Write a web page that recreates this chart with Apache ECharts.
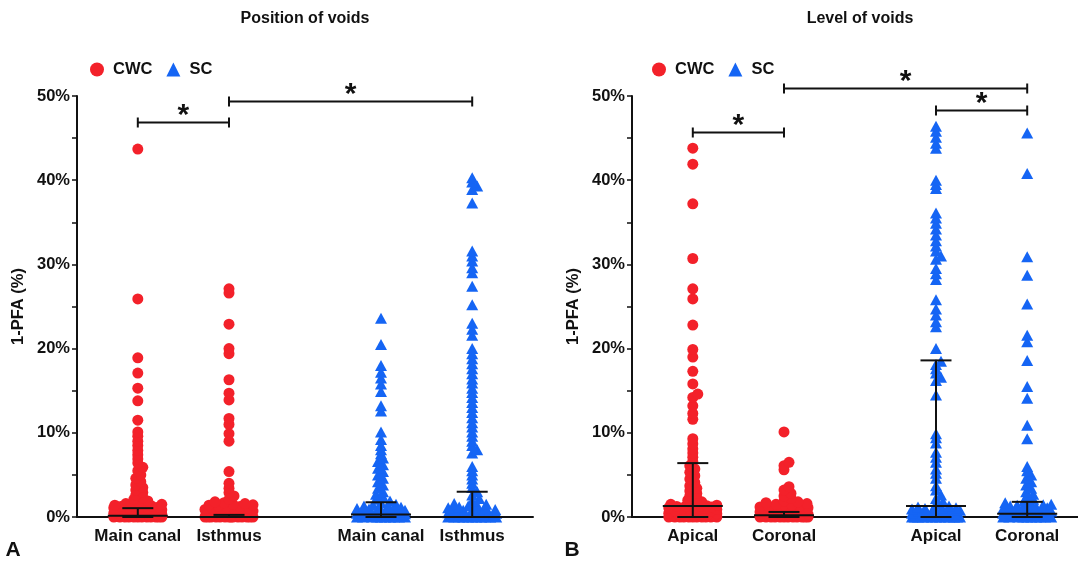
<!DOCTYPE html>
<html>
<head>
<meta charset="utf-8">
<title>Voids: position and level</title>
<script src="https://cdn.jsdelivr.net/npm/echarts@6/dist/echarts.min.js"></script>
<style>
  html, body { margin: 0; padding: 0; background: #fff; }
  #chart { width: 1078px; height: 568px; }
</style>
</head>
<body>
<div id="chart"></div>
<script>
// ---- Data: 1-PFA (%) per specimen ----
const positionCategories = ['Main canal', 'Isthmus', 'Main canal', 'Isthmus'];
const levelCategories = ['Apical', 'Coronal', 'Apical', 'Coronal'];
const yTicks = [0, 10, 20, 30, 40, 50];

// Position of voids
const cwcMainCanal = [43.7, 25.9, 18.9, 17.1, 15.3, 13.8, 11.5, 10.1, 9.6, 9.0, 8.5, 7.9, 7.4, 6.9, 6.4, 5.9, 5.5, 5.0, 4.6, 4.2, 3.8, 3.5, 3.2, 2.9, 2.6, 2.3, 2.1, 1.9, 1.7, 1.6, 1.5, 1.4, 1.35, 1.3, 1.3, 1.25, 1.2, 1.2, 1.15, 1.1, 1.0, 0.95, 0.9, 0.9, 0.85, 0.8, 0.8, 0.75, 0.7, 0.6, 0.55, 0.5, 0.5, 0.45, 0.45, 0.4, 0.4, 0.35, 0.3, 0.25, 0.2, 0.15, 0.1, 0.1, 0.05, 0.05, 0, 0, 0, 0, 0, 0, 0, 0, 0, 0, 0, 0];
const cwcIsthmus = [27.1, 26.6, 22.9, 20.0, 19.4, 16.3, 14.7, 13.9, 11.7, 11.0, 9.9, 9.0, 5.4, 4.0, 3.4, 2.9, 2.5, 2.1, 1.8, 1.7, 1.6, 1.5, 1.45, 1.4, 1.3, 1.25, 1.2, 1.1, 1.0, 0.95, 0.9, 0.85, 0.8, 0.75, 0.7, 0.6, 0.55, 0.5, 0.5, 0.45, 0.4, 0.35, 0.3, 0.25, 0.2, 0.15, 0.1, 0.1, 0.05, 0.05, 0, 0, 0, 0, 0, 0, 0, 0, 0, 0, 0, 0, 0, 0];
const scMainCanal = [23.6, 20.5, 18.0, 17.2, 16.5, 15.8, 14.9, 13.2, 12.6, 10.1, 9.2, 8.5, 8.0, 7.5, 7.0, 6.6, 6.2, 5.8, 5.4, 5.0, 4.6, 4.2, 3.8, 3.4, 3.0, 2.7, 2.4, 2.1, 1.9, 1.7, 1.5, 1.4, 1.3, 1.2, 1.15, 1.1, 1.0, 0.95, 0.9, 0.85, 0.8, 0.75, 0.7, 0.6, 0.55, 0.5, 0.5, 0.45, 0.4, 0.35, 0.3, 0.25, 0.2, 0.15, 0.1, 0.1, 0.05, 0.05, 0, 0, 0, 0, 0, 0, 0, 0, 0, 0];
const scIsthmus = [40.3, 39.8, 39.3, 38.9, 37.3, 31.6, 31.0, 30.4, 29.6, 29.0, 27.4, 25.2, 23.0, 22.3, 21.6, 20.0, 19.4, 18.8, 18.2, 17.6, 17.0, 16.4, 15.9, 15.3, 14.8, 14.2, 13.6, 13.0, 12.4, 11.8, 11.2, 10.7, 10.1, 9.6, 9.0, 8.5, 8.0, 7.6, 6.0, 5.5, 5.0, 4.5, 4.0, 3.5, 3.0, 2.6, 2.2, 1.9, 1.6, 1.5, 1.4, 1.3, 1.2, 1.1, 1.0, 0.95, 0.9, 0.85, 0.8, 0.7, 0.6, 0.55, 0.5, 0.45, 0.4, 0.3, 0.2, 0.15, 0.1, 0.05, 0, 0, 0, 0, 0, 0, 0, 0, 0, 0, 0];

// Level of voids
const cwcApical = [43.8, 41.9, 37.2, 30.7, 27.1, 25.9, 22.8, 19.9, 19.0, 17.3, 15.8, 14.6, 14.2, 13.2, 12.3, 11.6, 9.3, 8.7, 8.1, 7.6, 7.1, 6.6, 6.1, 5.7, 5.3, 4.9, 4.5, 4.1, 3.7, 3.4, 3.1, 2.8, 2.5, 2.2, 2.0, 1.8, 1.6, 1.5, 1.4, 1.35, 1.3, 1.3, 1.25, 1.2, 1.15, 1.1, 1.0, 0.95, 0.9, 0.85, 0.8, 0.75, 0.7, 0.6, 0.55, 0.5, 0.45, 0.4, 0.35, 0.3, 0.25, 0.2, 0.15, 0.1, 0.05, 0, 0, 0, 0, 0, 0, 0, 0, 0, 0, 0];
const cwcCoronal = [10.1, 6.5, 6.1, 5.6, 3.6, 3.2, 2.8, 2.5, 2.2, 1.9, 1.8, 1.7, 1.6, 1.5, 1.45, 1.4, 1.3, 1.25, 1.2, 1.1, 1.0, 0.95, 0.9, 0.85, 0.8, 0.75, 0.7, 0.6, 0.55, 0.5, 0.45, 0.4, 0.35, 0.3, 0.25, 0.2, 0.15, 0.1, 0.1, 0.05, 0.05, 0, 0, 0, 0, 0, 0, 0, 0, 0, 0, 0, 0];
const scApical = [46.4, 45.8, 45.1, 44.4, 43.8, 40.0, 39.5, 39.0, 36.1, 35.5, 34.9, 34.2, 33.5, 32.8, 32.2, 31.6, 31.0, 30.6, 29.5, 28.9, 28.2, 25.8, 24.7, 24.0, 23.2, 22.6, 20.0, 18.5, 18.1, 17.6, 17.1, 16.6, 16.2, 14.5, 9.9, 9.4, 8.8, 7.7, 7.1, 6.5, 5.7, 5.2, 4.6, 3.7, 3.2, 2.6, 2.2, 1.8, 1.5, 1.3, 1.2, 1.1, 1.05, 1.0, 0.95, 0.9, 0.85, 0.8, 0.7, 0.6, 0.55, 0.5, 0.45, 0.4, 0.3, 0.25, 0.2, 0.15, 0.1, 0.05, 0, 0, 0, 0, 0, 0, 0, 0, 0, 0, 0, 0, 0];
const scCoronal = [45.6, 40.8, 30.9, 28.7, 25.3, 21.6, 20.8, 18.6, 15.5, 14.1, 10.9, 9.3, 6.0, 5.5, 5.0, 4.6, 4.2, 3.8, 3.4, 3.0, 2.7, 2.4, 2.1, 1.9, 1.7, 1.6, 1.5, 1.45, 1.4, 1.3, 1.25, 1.2, 1.1, 1.0, 0.95, 0.9, 0.85, 0.8, 0.75, 0.7, 0.6, 0.55, 0.5, 0.45, 0.4, 0.35, 0.3, 0.25, 0.2, 0.15, 0.1, 0.05, 0, 0, 0, 0, 0, 0, 0, 0, 0, 0];

// Median with interquartile range, one entry per group
const positionMedian = [0.15, 0, 0.3, 0];
const positionQ1 = [0, 0, 0, 0];
const positionQ3 = [1.05, 0.25, 1.75, 3.0];
const levelMedian = [1.3, 0.2, 1.3, 0.4];
const levelQ1 = [0, 0, 0, 0];
const levelQ3 = [6.4, 0.6, 18.6, 1.8];

// Significance brackets: [from group, to group, height %]
const positionBrackets = [[0, 1, 46.9], [1, 3, 49.4]];
const levelBrackets = [[0, 1, 45.7], [1, 3, 50.9], [2, 3, 48.3]];

// ---- Layout ----
const FONT = '"Liberation Sans", Arial, Helvetica, sans-serif';
const RED = '#F3212A';
const BLUE = '#1565F4';
const INK = '#111111';
const groupPos = [2 / 3, 5 / 3, 10 / 3, 13 / 3];
const plotTop = 96, plotHeight = 421;
const pxPerX = 91.2;                // pixels per x unit
const pxPerY = plotHeight / 50;     // pixels per percent

// Beeswarm spread: points keep their value, only the horizontal offset is chosen
function swarm(values, pos) {
  const order = values.map((v, i) => i).sort((a, b) => values[a] - values[b]);
  const placed = [];
  const rx = 9, ry = 4, maxHalf = 24;
  const out = [];
  for (const i of order) {
    const v = values[i];
    const py = v * pxPerY;
    let best = 0, bestScore = -1;
    for (let k = 0; k <= 2 * maxHalf; k++) {
      const dx = (k % 2 === 1 ? 1 : -1) * Math.ceil(k / 2);
      let minD = Infinity;
      for (const p of placed) {
        const ddy = (py - p.py) / ry;
        if (Math.abs(ddy) >= 1) continue;
        const ddx = (dx - p.dx) / rx;
        const d = ddx * ddx + ddy * ddy;
        if (d < minD) minD = d;
      }
      if (minD >= 1) { best = dx; break; }
      if (minD > bestScore) { bestScore = minD; best = dx; }
    }
    placed.push({ dx: best, py });
    out.push([pos + best / pxPerX, v]);
  }
  return out;
}

function statsData(med, q1, q3) {
  return groupPos.map((p, i) => [p, med[i], q1[i], q3[i]]);
}

function bracketData(list) {
  return list.map(b => [groupPos[b[0]], groupPos[b[1]], b[2]]);
}

const lineStyle = { stroke: INK, lineWidth: 2 };

function renderStats(params, api) {
  const x = api.value(0);
  const pMed = api.coord([x, api.value(1)]);
  const pLo = api.coord([x, api.value(2)]);
  const pHi = api.coord([x, api.value(3)]);
  const cap = 15.5, half = 30;
  return {
    type: 'group',
    children: [
      { type: 'line', shape: { x1: pLo[0], y1: pLo[1], x2: pHi[0], y2: pHi[1] }, style: lineStyle },
      { type: 'line', shape: { x1: pLo[0] - cap, y1: pLo[1], x2: pLo[0] + cap, y2: pLo[1] }, style: lineStyle },
      { type: 'line', shape: { x1: pHi[0] - cap, y1: pHi[1], x2: pHi[0] + cap, y2: pHi[1] }, style: lineStyle },
      { type: 'line', shape: { x1: pMed[0] - half, y1: pMed[1], x2: pMed[0] + half, y2: pMed[1] }, style: lineStyle }
    ]
  };
}

function renderBracket(params, api) {
  const a = api.coord([api.value(0), api.value(2)]);
  const b = api.coord([api.value(1), api.value(2)]);
  const y = Math.round(a[1]) + 0.5;
  return {
    type: 'group',
    children: [
      { type: 'line', shape: { x1: a[0], y1: y, x2: b[0], y2: y }, style: lineStyle },
      { type: 'line', shape: { x1: a[0], y1: y - 5, x2: a[0], y2: y + 5 }, style: lineStyle },
      { type: 'line', shape: { x1: b[0], y1: y - 5, x2: b[0], y2: y + 5 }, style: lineStyle },
      { type: 'text', style: { x: (a[0] + b[0]) / 2, y: y - 7, text: '*', fill: INK,
        font: 'bold 30px ' + FONT, align: 'center', verticalAlign: 'middle' } }
    ]
  };
}

function xAxisFor(gridIndex, cats, max) {
  return {
    type: 'value', gridIndex, min: 0, max, interval: 1,
    axisLine: { show: true, lineStyle: { color: INK, width: 2 } },
    axisTick: { show: true, customValues: groupPos, length: 4, lineStyle: { color: INK, width: 1.5 } },
    axisLabel: {
      customValues: groupPos, margin: 11, color: INK, fontFamily: FONT, fontWeight: 'bold', fontSize: 17,
      formatter: val => {
        const i = groupPos.findIndex(p => Math.abs(p - val) < 1e-6);
        return i >= 0 ? cats[i] : '';
      }
    },
    splitLine: { show: false }
  };
}

function yAxisFor(gridIndex) {
  return {
    type: 'value', gridIndex, min: yTicks[0], max: yTicks[yTicks.length - 1], interval: 10,
    name: '1-PFA (%)', nameLocation: 'middle', nameGap: 50, nameRotate: 90,
    nameTextStyle: { color: INK, fontFamily: FONT, fontWeight: 'bold', fontSize: 16.5 },
    axisLine: { show: true, lineStyle: { color: INK, width: 2 } },
    axisTick: { show: true, length: 5, lineStyle: { color: INK, width: 1.5 } },
    minorTick: { show: true, splitNumber: 2, length: 5, lineStyle: { color: INK, width: 1.5 } },
    axisLabel: { margin: 7, color: INK, fontFamily: FONT, fontWeight: 'bold', fontSize: 16.5, formatter: '{value}%' },
    splitLine: { show: false }
  };
}

function legendAt(left) {
  return {
    left, top: 56, itemWidth: 14, itemHeight: 14, itemGap: 14,
    selectedMode: false,
    textStyle: { color: INK, fontFamily: FONT, fontWeight: 'bold', fontSize: 16.5, padding: [0, 0, 0, 4] },
    data: [{ name: 'CWC', icon: 'circle' }, { name: 'SC', icon: 'triangle' }]
  };
}

function scatter(name, xIdx, data, symbol, color) {
  return {
    name, type: 'scatter', xAxisIndex: xIdx, yAxisIndex: xIdx, data, symbol,
    symbolSize: symbol === 'circle' ? 11 : [12, 11],
    itemStyle: { color, opacity: 1 }, z: 2, silent: true, clip: false
  };
}

const chart = echarts.init(document.getElementById('chart'), null, { renderer: 'canvas' });

chart.setOption({
  animation: false,
  backgroundColor: '#ffffff',
  grid: [
    { left: 77, top: plotTop, width: 456, height: plotHeight },
    { left: 632, top: plotTop, width: 446, height: plotHeight }
  ],
  legend: [legendAt(85), legendAt(647)],
  xAxis: [xAxisFor(0, positionCategories, 5), xAxisFor(1, levelCategories, 446 / pxPerX)],
  yAxis: [yAxisFor(0), yAxisFor(1)],
  series: [
    scatter('CWC', 0, swarm(cwcMainCanal, groupPos[0]).concat(swarm(cwcIsthmus, groupPos[1])), 'circle', RED),
    scatter('SC', 0, swarm(scMainCanal, groupPos[2]).concat(swarm(scIsthmus, groupPos[3])), 'triangle', BLUE),
    scatter('CWC', 1, swarm(cwcApical, groupPos[0]).concat(swarm(cwcCoronal, groupPos[1])), 'circle', RED),
    scatter('SC', 1, swarm(scApical, groupPos[2]).concat(swarm(scCoronal, groupPos[3])), 'triangle', BLUE),
    { type: 'custom', xAxisIndex: 0, yAxisIndex: 0, renderItem: renderStats, z: 5, silent: true,
      encode: { x: 0, y: [1, 2, 3] }, data: statsData(positionMedian, positionQ1, positionQ3) },
    { type: 'custom', xAxisIndex: 1, yAxisIndex: 1, renderItem: renderStats, z: 5, silent: true,
      encode: { x: 0, y: [1, 2, 3] }, data: statsData(levelMedian, levelQ1, levelQ3) },
    { type: 'custom', xAxisIndex: 0, yAxisIndex: 0, renderItem: renderBracket, z: 5, silent: true, clip: false,
      encode: { x: [0, 1], y: 2 }, data: bracketData(positionBrackets) },
    { type: 'custom', xAxisIndex: 1, yAxisIndex: 1, renderItem: renderBracket, z: 5, silent: true, clip: false,
      encode: { x: [0, 1], y: 2 }, data: bracketData(levelBrackets) }
  ],
  graphic: [
    { type: 'text', x: 305, y: 19, style: { text: 'Position of voids', fill: INK,
      font: 'bold 16px ' + FONT, align: 'center', verticalAlign: 'middle' } },
    { type: 'text', x: 860, y: 19, style: { text: 'Level of voids', fill: INK,
      font: 'bold 16px ' + FONT, align: 'center', verticalAlign: 'middle' } },
    { type: 'text', x: 13, y: 550, style: { text: 'A', fill: INK,
      font: 'bold 21px ' + FONT, align: 'center', verticalAlign: 'middle' } },
    { type: 'text', x: 572, y: 550, style: { text: 'B', fill: INK,
      font: 'bold 21px ' + FONT, align: 'center', verticalAlign: 'middle' } }
  ]
});
</script>
</body>
</html>
